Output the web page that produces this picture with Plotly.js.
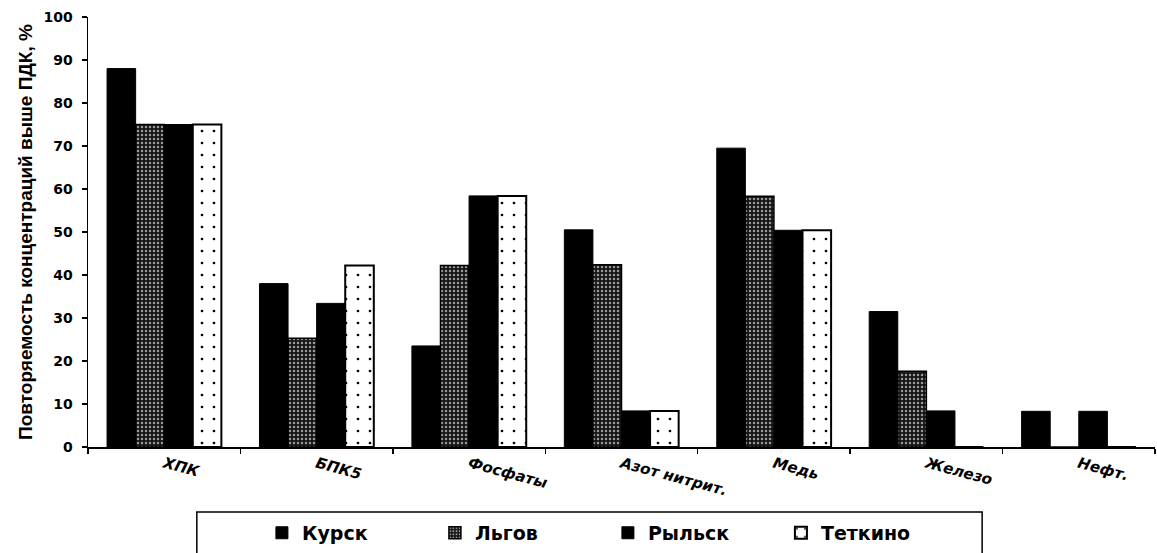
<!DOCTYPE html>
<html>
<head>
<meta charset="utf-8">
<script src="https://cdn.plot.ly/plotly-3.0.1.min.js"></script>
<style>
html,body{margin:0;padding:0;background:#fff;}
#chart{width:1157px;height:553px;}
</style>
</head>
<body>
<div id="chart"></div>
<script>
const categories = ["ХПК", "БПК5", "Фосфаты", "Азот нитрит.", "Медь", "Железо", "Нефт."];
const kursk   = [88, 38, 23.5, 50.5, 69.5, 31.5, 8.3];
const lgov    = [75, 25.3, 42.2, 42.4, 58.3, 17.6, 0];
const rylsk   = [75, 33.4, 58.4, 8.4, 50.4, 8.4, 8.3];
const tetkino = [75, 42.2, 58.4, 8.4, 50.4, 0, 0];
const seriesNames = ["Курск", "Льгов", "Рыльск", "Теткино"];
const yTicks = [0, 10, 20, 30, 40, 50, 60, 70, 80, 90, 100];

const traces = [
  {name: seriesNames[0], y: kursk,
   marker: {color: "#000000", line: {color: "#000", width: 1}}},
  {name: seriesNames[1], y: lgov,
   marker: {color: "#1a1a1a", line: {color: "#000", width: 1.5},
            pattern: {shape: ".", bgcolor: "#151515", fgcolor: "#9a9a9a", size: 4, solidity: 0.3, fillmode: "replace"}}},
  {name: seriesNames[2], y: rylsk,
   marker: {color: "#000000", line: {color: "#000", width: 1}}},
  {name: seriesNames[3], y: tetkino,
   marker: {color: "#ffffff", line: {color: "#000", width: 2},
            pattern: {shape: ".", bgcolor: "#ffffff", fgcolor: "#000000", size: 12, solidity: 0.04, fillmode: "replace"}}}
].map(t => Object.assign({type: "bar", x: categories}, t));

const layout = {
  width: 1157, height: 553,
  margin: {l: 88, r: 2, t: 17, b: 105},
  paper_bgcolor: "#ffffff", plot_bgcolor: "#ffffff",
  barmode: "group", bargap: 0.25, bargroupgap: 0,
  showlegend: true,
  legend: {
    orientation: "h", x: 0.163, xanchor: "left", y: -0.197, yanchor: "middle",
    font: {family: "DejaVu Sans", size: 19, color: "#000", weight: "bold"},
    entrywidth: 128, entrywidthmode: "pixels",
    bgcolor: "rgba(0,0,0,0)", borderwidth: 0, traceorder: "normal"
  },
  xaxis: {
    type: "category", showline: true, linecolor: "#000", linewidth: 1.5,
    ticks: "outside", tickson: "boundaries", ticklen: 5, tickcolor: "#000", tickwidth: 1.5,
    tickangle: 15, showgrid: false, zeroline: false,
    tickfont: {family: "DejaVu Sans", size: 15, color: "#000", style: "italic", weight: "bold"},
    ticklabelstandoff: 1
  },
  yaxis: {
    range: [0, 100], tickvals: yTicks, ticktext: yTicks.map(String),
    showline: true, linecolor: "#000", linewidth: 1.5,
    ticks: "outside", ticklen: 5, tickcolor: "#000", tickwidth: 1.5,
    showgrid: false, zeroline: false,
    tickfont: {family: "DejaVu Sans", size: 14, color: "#000", weight: "bold"},
    ticklabelstandoff: 6,
    title: {text: "Повторяемость концентраций выше ПДК, %",
            font: {family: "Liberation Sans", size: 19, color: "#000", weight: "bold"},
            standoff: 6}
  },
  shapes: [{
    type: "rect", xref: "paper", yref: "paper",
    x0: 0.102, x1: 0.838, y0: -0.151, y1: -0.35,
    line: {color: "#000", width: 1.5}, fillcolor: "rgba(0,0,0,0)", layer: "below"
  }]
};

Plotly.newPlot("chart", traces, layout, {displayModeBar: false, staticPlot: true});
</script>
</body>
</html>
